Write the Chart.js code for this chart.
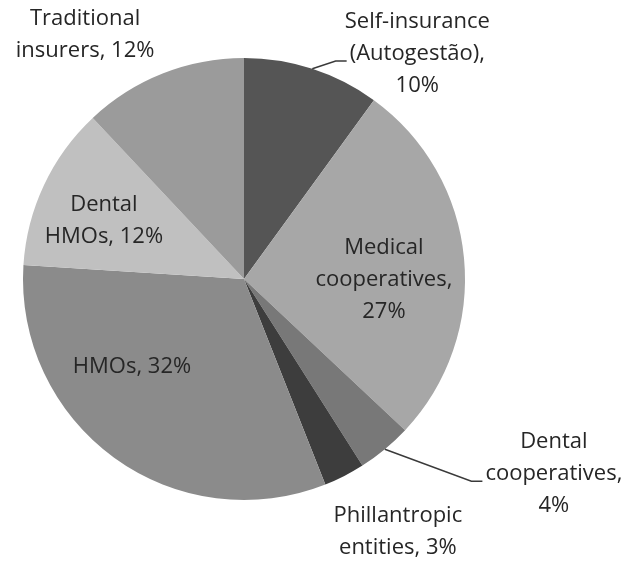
<!DOCTYPE html>
<html>
<head>
<meta charset="utf-8">
<title>Health plan operators by type</title>
<script src="https://cdn.jsdelivr.net/npm/chart.js@4/dist/chart.umd.min.js"></script>
<style>
  html, body { margin: 0; padding: 0; background: #ffffff; }
  #wrap { width: 625px; height: 561px; position: relative; }
</style>
</head>
<body>
<div id="wrap"><canvas id="pie" width="625" height="561"></canvas></div>
<script>
// Share of beneficiaries by operator type, clockwise from 12 o'clock
const categories = [
  "Self-insurance (Autogestão)",
  "Medical cooperatives",
  "Dental cooperatives",
  "Phillantropic entities",
  "HMOs",
  "Dental HMOs",
  "Traditional insurers"
];
const shares = [10, 27, 4, 3, 32, 12, 12];
const sliceColors = ["#555555", "#a7a7a7", "#787878", "#3d3d3d", "#8b8b8b", "#c0c0c0", "#9b9b9b"];

// Label placement: angular shift from the slice's mid angle (degrees),
// distance from the centre in radii, wrap width, and whether a leader is drawn
const labelLayout = [
  { shift: 19.6,  dist: 1.285, wrap: 165, leader: true  },
  { shift: 5.8,   dist: 0.633, wrap: 150, leader: false },
  { shift: -18.2, dist: 1.657, wrap: 150, leader: true  },
  { shift: -4.3,  dist: 1.34,  wrap: 150, leader: false },
  { shift: 15.8,  dist: 0.645, wrap: 150, leader: false },
  { shift: -2.7,  dist: 0.686, wrap: 120, leader: false },
  { shift: -11.4, dist: 1.32,  wrap: 150, leader: false }
];

const FONT = '22px "Open Sans", sans-serif';
const LINE_H = 32;

function wrapWords(ctx, text, maxW) {
  const words = text.split(" ");
  const lines = [];
  let cur = "";
  for (const w of words) {
    const t = cur ? cur + " " + w : w;
    if (cur && ctx.measureText(t).width > maxW) {
      lines.push(cur);
      cur = w;
    } else {
      cur = t;
    }
  }
  if (cur) lines.push(cur);
  return lines;
}

const sliceLabels = {
  id: "sliceLabels",
  afterDatasetsDraw(chart) {
    const ctx = chart.ctx;
    const meta = chart.getDatasetMeta(0);
    const values = chart.data.datasets[0].data;
    ctx.save();
    ctx.font = FONT;
    ctx.fillStyle = "#262626";
    ctx.textAlign = "center";
    ctx.textBaseline = "middle";
    meta.data.forEach((arc, i) => {
      const p = arc.getProps(["x", "y", "outerRadius", "startAngle", "endAngle"], true);
      const mid = (p.startAngle + p.endAngle) / 2;
      const lay = labelLayout[i];
      const a = mid + lay.shift * Math.PI / 180;
      const cx = p.x + Math.cos(a) * p.outerRadius * lay.dist;
      const cy = p.y + Math.sin(a) * p.outerRadius * lay.dist;
      const text = chart.data.labels[i] + ", " + values[i] + "%";
      const lines = wrapWords(ctx, text, lay.wrap);
      const top = cy - (lines.length - 1) * LINE_H / 2;
      lines.forEach((ln, k) => ctx.fillText(ln, cx, top + k * LINE_H));

      if (lay.leader) {
        const k = Math.floor(lines.length / 2);
        const left = cx - ctx.measureText(lines[k]).width / 2;
        const ly = top + k * LINE_H + 7;
        const sx = p.x + Math.cos(mid) * p.outerRadius;
        const sy = p.y + Math.sin(mid) * p.outerRadius;
        ctx.beginPath();
        ctx.strokeStyle = "#3a3a3a";
        ctx.lineWidth = 1.5;
        ctx.moveTo(sx, sy);
        ctx.lineTo(left - 14, ly);
        ctx.lineTo(left - 3, ly);
        ctx.stroke();
      }
    });
    ctx.restore();
  }
};

new Chart(document.getElementById("pie"), {
  type: "pie",
  data: {
    labels: categories,
    datasets: [{
      data: shares,
      backgroundColor: sliceColors,
      borderWidth: 0,
      hoverOffset: 0
    }]
  },
  options: {
    responsive: false,
    animation: false,
    layout: { padding: { left: 23, right: 160, top: 58, bottom: 61 } },
    plugins: {
      legend: { display: false },
      tooltip: { enabled: false }
    }
  },
  plugins: [sliceLabels]
});
</script>
</body>
</html>
